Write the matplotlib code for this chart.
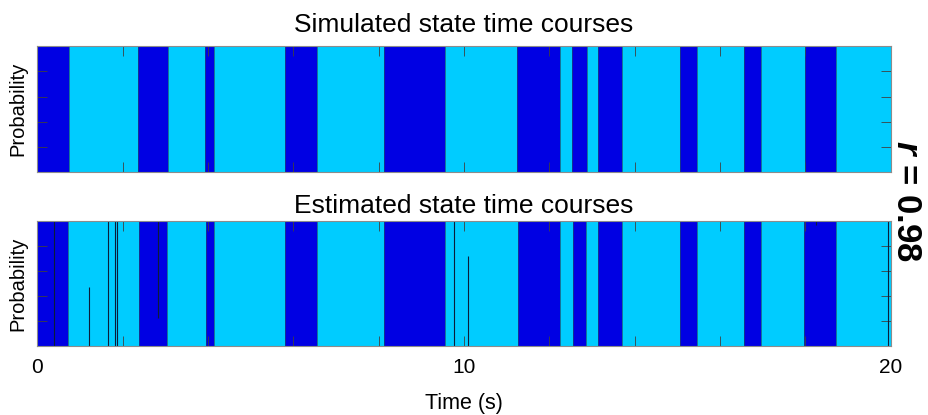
import numpy as np
import matplotlib
matplotlib.use("Agg")
import matplotlib.pyplot as plt
from matplotlib.ticker import FixedLocator, NullFormatter

plt.rcParams['font.family'] = ['Liberation Sans', 'DejaVu Sans']
plt.rcParams['mathtext.fontset'] = 'custom'
plt.rcParams['mathtext.it'] = 'Liberation Sans:italic:bold'
plt.rcParams['mathtext.rm'] = 'Liberation Sans:bold'

# state switch times (s); both courses start in state 1 and alternate
sim_switch = [0.74, 2.37, 3.06, 3.93, 4.15, 5.81, 6.56, 8.13, 9.56, 11.24, 12.24,
              12.54, 12.89, 13.13, 13.71, 15.06, 15.47, 16.57, 16.96, 17.98, 18.72]
est_switch = [0.73, 2.39, 3.05, 3.95, 4.14, 5.81, 6.55, 8.13, 9.56, 11.26, 12.24,
              12.56, 12.87, 13.14, 13.71, 15.07, 15.46, 16.57, 16.96, 17.97, 18.71]
# brief excursions in the estimate: time (s) and state-1 probability
spike_t = [0.40, 1.20, 1.66, 1.83, 1.86, 2.82, 9.77, 10.10, 18.26, 19.94]
spike_p = [0.0, 0.47, 1.0, 1.0, 1.0, 0.22, 1.0, 0.72, 0.97, 1.0]
t_end = 20
r_value = 0.98

dark = '#0000E3'
light = '#00CCFF'

fig = plt.figure(figsize=(9.29, 4.15), dpi=100)
ax1 = fig.add_axes([0.0402, 0.5848, 0.9186, 0.3044])
ax2 = fig.add_axes([0.0402, 0.1663, 0.9186, 0.3012])


def state_course(ax, switches):
    edges = np.array([0] + switches + [t_end])
    p = np.array([1.0 if i % 2 == 0 else 0.0 for i in range(len(edges) - 1)])
    p = np.append(p, p[-1])
    ax.fill_between(edges, 0, p, step='post', color=dark, lw=0)
    ax.fill_between(edges, p, 1, step='post', color=light, lw=0)
    ax.vlines(switches, 0, 1, color='#1d4a6a', lw=0.6, alpha=0.8)
    return edges


def in_state1(edges, t):
    i = np.searchsorted(edges, t) - 1
    return i % 2 == 0


state_course(ax1, sim_switch)
edges = state_course(ax2, est_switch)
for t, p in zip(spike_t, spike_p):
    if in_state1(edges, t):
        ax2.vlines(t, p, 1, color='#0b1d3a', lw=0.8)
    else:
        ax2.vlines(t, 0, p, color='#0b1d3a', lw=0.8)

for ax in (ax1, ax2):
    ax.set_xlim(0, t_end)
    ax.set_ylim(0, 1)
    ax.xaxis.set_major_locator(FixedLocator([0, 10, 20]))
    ax.xaxis.set_minor_locator(FixedLocator(np.arange(2, 20, 2)))
    ax.yaxis.set_major_locator(FixedLocator([0.2, 0.4, 0.6, 0.8]))
    ax.yaxis.set_major_formatter(NullFormatter())
    ax.tick_params(which='both', direction='in', top=True, right=True,
                   length=7, width=0.6, color='#404040', labelsize=15, pad=9)
    for s in ax.spines.values():
        s.set_color('#8c8c8c')
        s.set_linewidth(0.8)
    ax.set_ylabel('Probability', fontsize=14.5)
    ax.yaxis.set_label_coords(-0.012, 0.5)

ax1.tick_params(axis='x', which='both', labelbottom=False)
ax1.set_title('Simulated state time courses', fontsize=19, pad=10)
ax2.set_title('Estimated state time courses', fontsize=19, pad=6)
ax2.set_xlabel('Time (s)', fontsize=15.5, labelpad=11)

fig.text(907 / 929, 1 - 201 / 415, r'$\mathit{r}$ = 0.98', fontsize=25,
         fontweight='bold', rotation=-90, ha='center', va='center')

fig.savefig('out.png', dpi=100)
